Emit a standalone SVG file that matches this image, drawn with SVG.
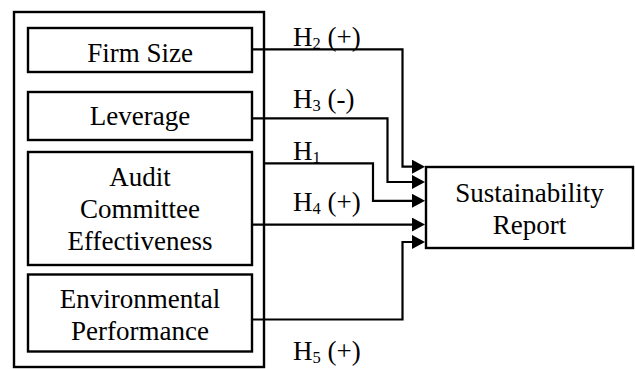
<svg xmlns="http://www.w3.org/2000/svg" width="635" height="369" viewBox="0 0 635 369">
  <style>
    .box { fill: #ffffff; stroke: #000000; stroke-width: 2.4; }
    .frame { fill: none; stroke: #000000; stroke-width: 2.4; }
    .label { font-size: 27px; fill: #000000; }
    .mid { text-anchor: middle; }
    .sub { font-size: 16.5px; }
    .link { fill: none; stroke: #000000; stroke-width: 2.2; marker-end: url(#arrow); }
  </style>
  <defs>
    <marker id="arrow" viewBox="0 0 13 14" refX="2" refY="7" markerWidth="13" markerHeight="14" markerUnits="userSpaceOnUse" orient="auto">
      <path d="M0,0 L13,7 L0,14 Z" fill="#000000"/>
    </marker>
  </defs>

  <rect width="635" height="369" fill="#ffffff"/>

  <g font-family="'Liberation Serif', 'Times New Roman', Times, serif">
    <!-- outer frame grouping the independent variables -->
    <g id="independent-variables">
      <rect class="frame" x="14" y="12" width="250" height="355"/>
    </g>

    <g id="firm-size">
      <rect class="box" x="28" y="28" width="224" height="44"/>
      <text class="label mid" x="140" y="62">Firm Size</text>
    </g>

    <g id="leverage">
      <rect class="box" x="28" y="92" width="224" height="48"/>
      <text class="label mid" x="140" y="125">Leverage</text>
    </g>

    <g id="audit-committee">
      <rect class="box" x="28" y="152" width="224" height="113"/>
      <text class="label mid" x="140" y="186">Audit</text>
      <text class="label mid" x="140" y="218">Committee</text>
      <text class="label mid" x="140" y="250">Effectiveness</text>
    </g>

    <g id="environmental-performance">
      <rect class="box" x="28" y="274.5" width="224" height="77"/>
      <text class="label mid" x="140" y="308">Environmental</text>
      <text class="label mid" x="140" y="340">Performance</text>
    </g>

    <g id="sustainability-report">
      <rect class="box" x="426" y="167" width="207" height="81"/>
      <text class="label mid" x="529.5" y="202">Sustainability</text>
      <text class="label mid" x="529.5" y="234">Report</text>
    </g>

    <!-- hypothesis paths -->
    <g id="connectors">
      <path class="link" d="M252,49.3 H402.5 V166.7 H414"/>
      <path class="link" d="M252,118.3 H387.5 V182 H414"/>
      <path class="link" d="M264,163.3 H373 V200.8 H414"/>
      <path class="link" d="M252,224.6 H414"/>
      <path class="link" d="M252,319.5 H402.5 V242 H414"/>
    </g>

    <g id="hypothesis-labels">
      <text class="label" x="293" y="46">H<tspan class="sub" dy="3">2</tspan><tspan dy="-3"> (+)</tspan></text>
      <text class="label" x="293" y="108">H<tspan class="sub" dy="3">3</tspan><tspan dy="-3"> (-)</tspan></text>
      <text class="label" x="293" y="159.5">H<tspan class="sub" dy="3">1</tspan></text>
      <text class="label" x="293" y="211">H<tspan class="sub" dy="3">4</tspan><tspan dy="-3"> (+)</tspan></text>
      <text class="label" x="293" y="360">H<tspan class="sub" dy="3">5</tspan><tspan dy="-3"> (+)</tspan></text>
    </g>
  </g>
</svg>
